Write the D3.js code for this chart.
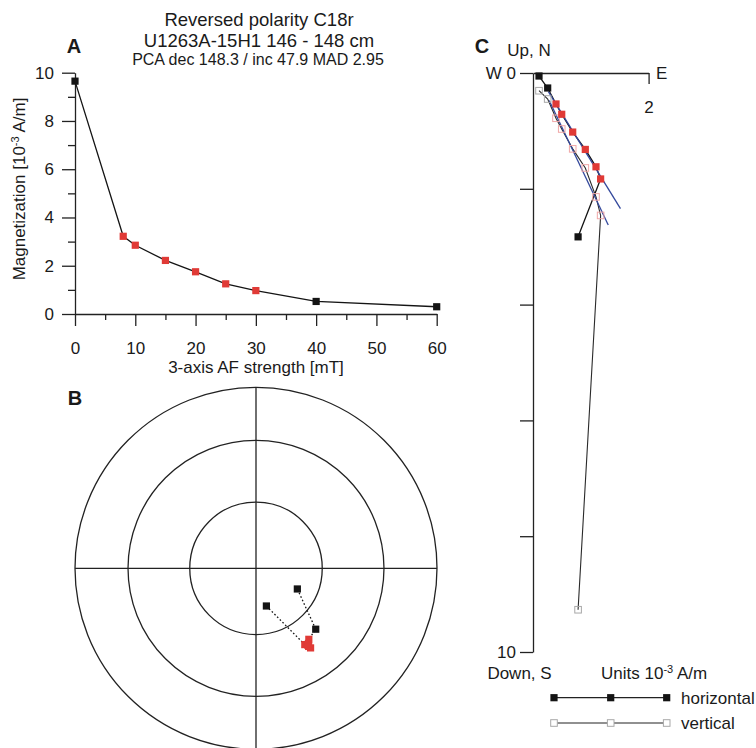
<!DOCTYPE html>
<html><head><meta charset="utf-8">
<script src="https://cdn.jsdelivr.net/npm/d3@7"></script>
<style>
body{margin:0;background:#fff}
svg{display:block}
text{font-family:"Liberation Sans",Arial,Helvetica,sans-serif;fill:#1a1a1a}
</style>
</head><body>
<svg id="c" width="756" height="748"></svg>
<script>
// ---------------- DATA ----------------
const titleLines = ["Reversed polarity C18r", "U1263A-15H1 146 - 148 cm"];
const pcaDec = 148.3, pcaInc = 47.9, pcaMAD = 2.95;
const steps = [0, 8, 10, 15, 20, 25, 30, 40, 60];            // AF step [mT]
const intensity = [9.65, 3.22, 2.85, 2.22, 1.75, 1.25, 0.97, 0.52, 0.30]; // 10^-3 A/m
const fitSteps = [8, 10, 15, 20, 25, 30];
// Orthogonal components (10^-3 A/m)
const compEast  = [0.78, 1.17, 1.09, 0.905, 0.687, 0.497, 0.398, 0.254, 0.104];
const compSouth = [2.83, 1.83, 1.62, 1.32, 1.02, 0.713, 0.535, 0.259, 0.052];
const compDown  = [9.27, 2.46, 2.14, 1.64, 1.31, 0.967, 0.782, 0.449, 0.306];
const xTicksA = [0, 10, 20, 30, 40, 50, 60];
const xMinorA = [5, 15, 25, 35, 45, 55];
const yTicksA = [0, 2, 4, 6, 8, 10];
const yMinorA = [1, 3, 5, 7, 9];
const zTicksV = [0, 2, 4, 6, 8, 10];
const zTicksH = [2];
const stereoIncCircles = [60, 30, 0];
// PCA line extents along fit direction (in 10^-3 A/m from centroid)
const pcaSpanH = [-1.49, 2.05];
const pcaSpanV = [-1.45, 1.45];

// ---------------- STYLE ----------------
const RED = "#e03a36", BLK = "#141414", BLUE = "#33489c", PINK = "#f0a7a7", GRAY = "#a8a8a8";
const svg = d3.select("#c");
const FS = 17;
const isFit = steps.map(s => fitSteps.includes(s));

// ---------------- TITLE ----------------
svg.append("text").attr("x", 259).attr("y", 26).attr("text-anchor", "middle")
  .style("font-size", "18.5px").text(titleLines[0]);
svg.append("text").attr("x", 259).attr("y", 46.5).attr("text-anchor", "middle")
  .style("font-size", "18.5px").text(titleLines[1]);
svg.append("text").attr("x", 258).attr("y", 65).attr("text-anchor", "middle")
  .style("font-size", "16px")
  .text(`PCA dec ${pcaDec} / inc ${pcaInc} MAD ${pcaMAD}`);

function panelLetter(t, x, y) {
  svg.append("text").attr("x", x).attr("y", y).attr("text-anchor", "middle")
    .style("font-size", "20px").style("font-weight", "bold").text(t);
}
panelLetter("A", 74, 53);
panelLetter("B", 75, 405);
panelLetter("C", 482, 53);

function styleAxis(g) {
  g.selectAll("path.domain").attr("stroke", "#222").attr("stroke-width", 1.3);
  g.selectAll(".tick line").attr("stroke", "#222").attr("stroke-width", 1.3);
  g.selectAll(".tick text").style("font-size", FS + "px")
    .style("font-family", '"Liberation Sans",Arial,sans-serif').attr("fill", "#1a1a1a");
}

// ---------------- PANEL A ----------------
const xA = d3.scaleLinear().domain([0, 60]).range([75, 436.7]);
const yA = d3.scaleLinear().domain([0, 10]).range([314, 72.7]);
const gA = svg.append("g");
gA.append("g").attr("transform", "translate(0,314)")
  .call(d3.axisBottom(xA).tickValues(xTicksA).tickSize(12).tickPadding(16).tickSizeOuter(0))
  .call(styleAxis);
gA.append("g").attr("transform", "translate(0,314)")
  .call(d3.axisBottom(xA).tickValues(xMinorA).tickSize(6).tickFormat("").tickSizeOuter(0))
  .call(styleAxis).call(g => g.select(".domain").remove());
gA.append("g").attr("transform", "translate(75,0)")
  .call(d3.axisLeft(yA).tickValues(yTicksA).tickSize(13).tickPadding(8).tickSizeOuter(0))
  .call(styleAxis);
gA.append("g").attr("transform", "translate(75,0)")
  .call(d3.axisLeft(yA).tickValues(yMinorA).tickSize(7).tickFormat("").tickSizeOuter(0))
  .call(styleAxis).call(g => g.select(".domain").remove());

gA.append("text").attr("x", 256).attr("y", 373).attr("text-anchor", "middle")
  .style("font-size", FS + "px").text("3-axis AF strength [mT]");
const yl = gA.append("text").attr("transform", "translate(24.5,189) rotate(-90)")
  .attr("text-anchor", "middle").style("font-size", FS + "px");
yl.append("tspan").text("Magnetization [10");
yl.append("tspan").attr("dy", -6).style("font-size", "11px").text("-3");
yl.append("tspan").attr("dy", 6).text(" A/m]");

const dataA = steps.map((s, i) => ({ s, v: intensity[i], fit: isFit[i] }));
gA.append("path").datum(dataA)
  .attr("d", d3.line().x(d => xA(d.s)).y(d => yA(d.v)))
  .attr("fill", "none").attr("stroke", BLK).attr("stroke-width", 1.3);
gA.selectAll("rect.m").data(dataA).join("rect")
  .attr("x", d => xA(d.s) - 3.6).attr("y", d => yA(d.v) - 3.6)
  .attr("width", 7.2).attr("height", 7.2)
  .attr("fill", d => d.fit ? RED : BLK);

// ---------------- PANEL B (equal-area stereonet) ----------------
const cx = 256, cy = 568.3, R = 181;
const rB = d3.scaleLinear().domain([0, 1]).range([0, R]);
const eqArea = inc => Math.SQRT2 * Math.sin((90 - Math.abs(inc)) / 2 * Math.PI / 180);
const gB = svg.append("g");
gB.selectAll("circle.g").data(stereoIncCircles).join("circle")
  .attr("cx", cx).attr("cy", cy).attr("r", d => rB(eqArea(d)))
  .attr("fill", "none").attr("stroke", "#222").attr("stroke-width", 1.3);
gB.append("line").attr("x1", cx - R).attr("x2", cx + R).attr("y1", cy).attr("y2", cy)
  .attr("stroke", "#222").attr("stroke-width", 1.3);
gB.append("line").attr("x1", cx).attr("x2", cx).attr("y1", cy - R).attr("y2", cy + R)
  .attr("stroke", "#222").attr("stroke-width", 1.3);

const dirs = steps.map((s, i) => {
  const e = compEast[i], n = -compSouth[i], d = compDown[i];
  const dec = (Math.atan2(e, n) * 180 / Math.PI + 360) % 360;
  const inc = Math.atan2(d, Math.hypot(e, n)) * 180 / Math.PI;
  const r = rB(eqArea(inc));
  return { s, dec, inc, fit: isFit[i],
    x: cx + r * Math.sin(dec * Math.PI / 180),
    y: cy - r * Math.cos(dec * Math.PI / 180) };
});
gB.append("path").datum(dirs)
  .attr("d", d3.line().x(d => d.x).y(d => d.y))
  .attr("fill", "none").attr("stroke", BLK).attr("stroke-width", 1.3)
  .attr("stroke-dasharray", "1.6,2.2");
gB.selectAll("rect.m").data(dirs).join("rect")
  .attr("x", d => d.x - 3.6).attr("y", d => d.y - 3.6)
  .attr("width", 7.2).attr("height", 7.2)
  .attr("fill", d => d.fit ? RED : BLK);

// ---------------- PANEL C (Zijderveld) ----------------
const xC = d3.scaleLinear().domain([0, 2]).range([533, 648.6]);
const yC = d3.scaleLinear().domain([0, 10]).range([73, 652]);
const gC = svg.append("g");
gC.append("g").attr("transform", "translate(533,0)")
  .call(d3.axisLeft(yC).tickValues(zTicksV).tickSize(13).tickPadding(4).tickSizeOuter(0)
    .tickFormat(d => d === 0 ? "W 0" : d === 10 ? "10" : ""))
  .call(styleAxis);
gC.append("g").attr("transform", "translate(0,73)")
  .call(d3.axisBottom(xC).tickValues(zTicksH).tickSize(11).tickPadding(17).tickSizeOuter(0)
    .tickFormat(d3.format("d")))
  .call(styleAxis);
gC.append("text").attr("x", 656).attr("y", 79).style("font-size", FS + "px").text("E");
gC.append("text").attr("x", 529).attr("y", 55.5).attr("text-anchor", "middle")
  .style("font-size", FS + "px").text("Up, N");
gC.append("text").attr("x", 519.5).attr("y", 679).attr("text-anchor", "middle")
  .style("font-size", FS + "px").text("Down, S");
const ut = gC.append("text").attr("x", 601).attr("y", 679).style("font-size", FS + "px");
ut.append("tspan").text("Units 10");
ut.append("tspan").attr("dy", -6).style("font-size", "11px").text("-3");
ut.append("tspan").attr("dy", 6).text(" A/m");

const zd = steps.map((s, i) => ({ s, e: compEast[i], south: compSouth[i], down: compDown[i], fit: isFit[i] }));
// vertical projection line
gC.append("path").datum(zd)
  .attr("d", d3.line().x(d => xC(d.e)).y(d => yC(d.down)))
  .attr("fill", "none").attr("stroke", "#2a2a2a").attr("stroke-width", 1.1);
// horizontal projection line
gC.append("path").datum(zd)
  .attr("d", d3.line().x(d => xC(d.e)).y(d => yC(d.south)))
  .attr("fill", "none").attr("stroke", BLK).attr("stroke-width", 1.3);

// PCA lines through centroid of fitted points
const fitPts = zd.filter(d => d.fit);
const cE = d3.mean(fitPts, d => d.e), cS = d3.mean(fitPts, d => d.south), cD = d3.mean(fitPts, d => d.down);
const rad = Math.PI / 180;
const dirE = Math.cos(pcaInc * rad) * Math.sin(pcaDec * rad);
const dirS = -Math.cos(pcaInc * rad) * Math.cos(pcaDec * rad);
const dirD = Math.sin(pcaInc * rad);
gC.append("line")
  .attr("x1", xC(cE + pcaSpanH[0] * dirE)).attr("y1", yC(cS + pcaSpanH[0] * dirS))
  .attr("x2", xC(cE + pcaSpanH[1] * dirE)).attr("y2", yC(cS + pcaSpanH[1] * dirS))
  .attr("stroke", BLUE).attr("stroke-width", 1.3);
gC.append("line")
  .attr("x1", xC(cE + pcaSpanV[0] * dirE)).attr("y1", yC(cD + pcaSpanV[0] * dirD))
  .attr("x2", xC(cE + pcaSpanV[1] * dirE)).attr("y2", yC(cD + pcaSpanV[1] * dirD))
  .attr("stroke", BLUE).attr("stroke-width", 1.3);

gC.selectAll("rect.v").data(zd).join("rect")
  .attr("x", d => xC(d.e) - 3.3).attr("y", d => yC(d.down) - 3.3)
  .attr("width", 6.6).attr("height", 6.6)
  .attr("fill", "none").attr("stroke", d => d.fit ? PINK : GRAY).attr("stroke-width", 1);
gC.selectAll("rect.h").data(zd).join("rect")
  .attr("x", d => xC(d.e) - 3.6).attr("y", d => yC(d.south) - 3.6)
  .attr("width", 7.2).attr("height", 7.2)
  .attr("fill", d => d.fit ? RED : BLK);

// legend
const legX = [554, 610.7, 666.7];
const legend = [
  { label: "horizontal", y: 697.7, filled: true },
  { label: "vertical", y: 723, filled: false }
];
legend.forEach(L => {
  gC.append("line").attr("x1", legX[0]).attr("x2", legX[2]).attr("y1", L.y).attr("y2", L.y)
    .attr("stroke", "#222").attr("stroke-width", L.filled ? 1.3 : 1.1);
  legX.forEach(x => {
    if (L.filled) gC.append("rect").attr("x", x - 3.6).attr("y", L.y - 3.6).attr("width", 7.2).attr("height", 7.2).attr("fill", BLK);
    else gC.append("rect").attr("x", x - 3.3).attr("y", L.y - 3.3).attr("width", 6.6).attr("height", 6.6).attr("fill", "#fff").attr("stroke", GRAY);
  });
  gC.append("text").attr("x", 681).attr("y", L.y + 5.8).style("font-size", FS + "px").text(L.label);
});
</script>
</body></html>
